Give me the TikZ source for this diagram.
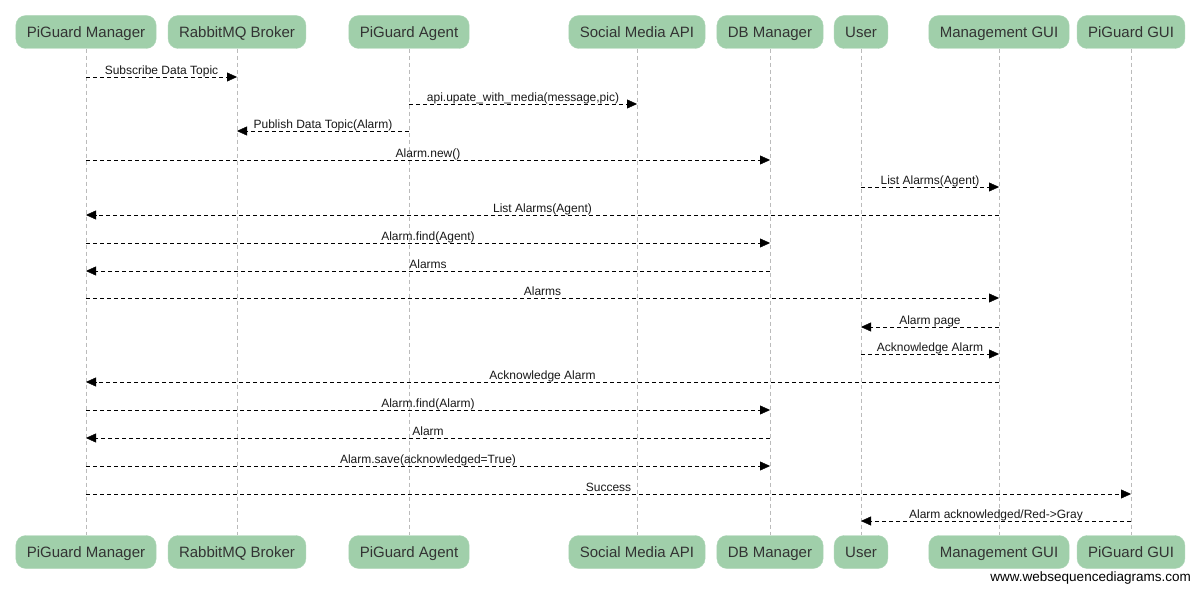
\documentclass[tikz,border=0pt]{standalone}
\usepackage{fontspec}
\setmainfont{Liberation Sans}
\usetikzlibrary{arrows.meta}
\definecolor{boxgreen}{HTML}{A0CFAA}
\definecolor{boxtext}{HTML}{333333}
\definecolor{lifegray}{HTML}{BBBBBB}

\begin{document}
\begin{tikzpicture}[x=1pt,y=-1pt,
        actor/.style={fill=boxgreen, draw=boxgreen!85!white, rounded corners=10pt,
            minimum height=33pt, inner xsep=11pt, inner ysep=0pt,
            text height=13pt, text depth=2pt, text=boxtext,
            font=\fontsize{15}{18}\selectfont},
        lifeline/.style={draw=lifegray, dash pattern=on 4pt off 3pt},
        msg/.style={draw=black, dash pattern=on 4pt off 3pt,
            -{Triangle[length=10pt,width=9pt]}},
        msglabel/.style={anchor=base, yshift=2.5pt, inner sep=0pt,
            font=\fontsize{12}{14}\selectfont, text=black!90}
    ]
    \fill[white] (0,0) rectangle (1200,593);
    \useasboundingbox (0,0) rectangle (1200,593);
    % participants, top and bottom, with their lifelines
    \foreach \n/\x/\t in {mgr/86/PiGuard Manager, brk/237/RabbitMQ Broker,
        agt/409/PiGuard Agent, sma/637/Social Media API, dbm/770/DB Manager,
        usr/861/User, mgui/999/Management GUI, pgui/1131/PiGuard GUI}{
      \node[actor] (\n) at (\x,32) {\t};
      \node[actor] (\n-b) at (\x,552) {\t};
      \draw[lifeline] (\n) -- (\n-b);
    }
    % messages
    \foreach \a/\b/\y/\t in {
        mgr/brk/77/{Subscribe Data Topic},
        agt/sma/104/{api.upate\_with\_media(message,pic)},
        agt/brk/131/{Publish Data Topic(Alarm)},
        mgr/dbm/160/{Alarm.new()},
        usr/mgui/187/{List Alarms(Agent)},
        mgui/mgr/215/{List Alarms(Agent)},
        mgr/dbm/243/{Alarm.find(Agent)},
        dbm/mgr/271/{Alarms},
        mgr/mgui/298/{Alarms},
        mgui/usr/327/{Alarm page},
        usr/mgui/354/{Acknowledge Alarm},
        mgui/mgr/382/{Acknowledge Alarm},
        mgr/dbm/410/{Alarm.find(Alarm)},
        dbm/mgr/438/{Alarm},
        mgr/dbm/466/{Alarm.save(acknowledged=True)},
        mgr/pgui/494/{Success},
        pgui/usr/521/{Alarm acknowledged/Red->Gray}}{
      \path (0,\y) coordinate (row);
      \draw[msg] (\a |- row) -- node[msglabel] {\t} (\b |- row);
    }
    \node[anchor=east, inner sep=0pt, font=\fontsize{13.5}{16}\selectfont] (wsd)
        at (1191,578) {www.websequencediagrams.com};
\end{tikzpicture}
\end{document}
